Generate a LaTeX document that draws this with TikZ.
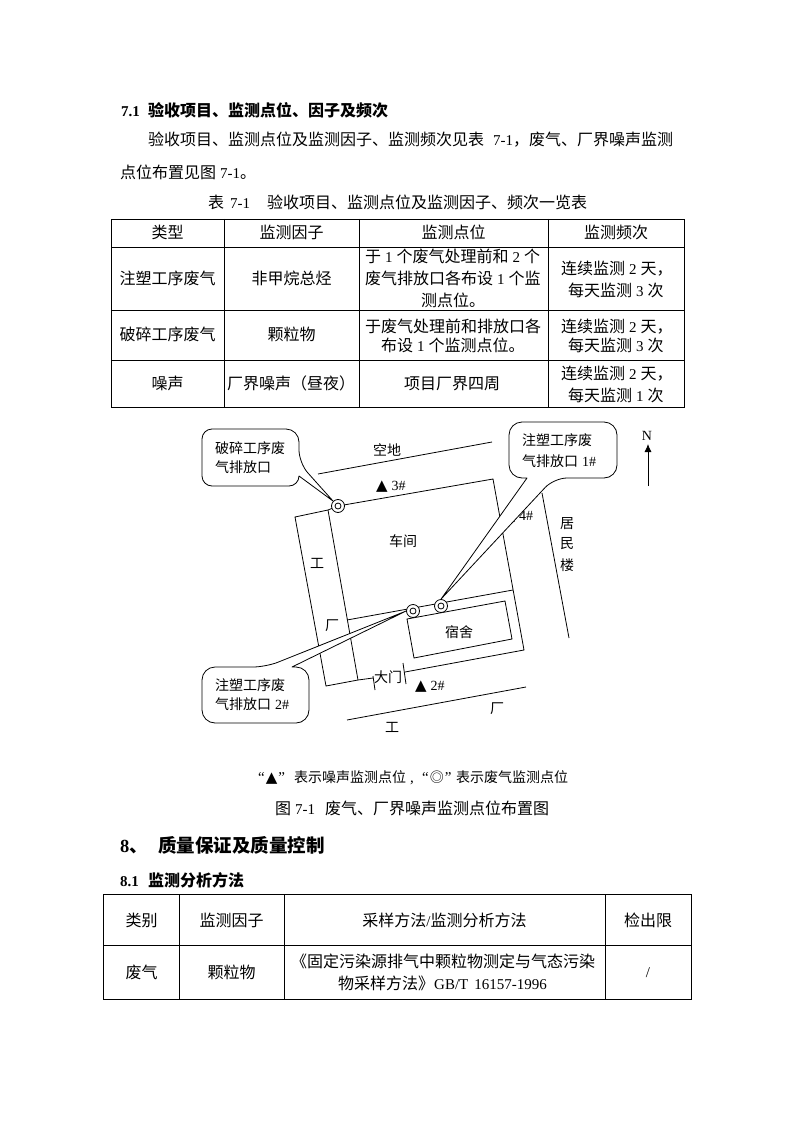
\documentclass[tikz,border=0pt]{standalone}
\usepackage{fontspec}
\usetikzlibrary{arrows.meta}
\setmainfont{Noto Sans CJK SC}
\newfontfamily\ltfont{Liberation Serif}
\newfontfamily\symfont{DejaVu Sans}
\newcommand\lat[1]{{\ltfont\fontsize{15}{15}\selectfont #1}}
\newcommand\slat[1]{{\ltfont\fontsize{14}{14}\selectfont #1}}
\newcommand\tri{{\symfont\fontsize{15}{15}\selectfont ▲}}
\tikzset{
  tl/.style={anchor=base west,inner sep=0pt,font=\fontsize{16}{16}\selectfont},
  tc/.style={anchor=base,inner sep=0pt,font=\fontsize{16}{16}\selectfont},
  dl/.style={anchor=base west,inner sep=0pt,font=\fontsize{14}{14}\selectfont},
  dc/.style={anchor=base,inner sep=0pt,font=\fontsize{14}{14}\selectfont},
  heads/.style={anchor=base west,inner sep=0pt,font=\bfseries\fontsize{16}{16}\selectfont},
  rule/.style={draw=black,line width=0.9pt},
  plan/.style={draw=black,line width=0.8pt},
  callout/.style={draw=black,fill=white,line width=0.8pt,line join=round},
  ring/.style={circle,draw=black,fill=white,line width=0.8pt,minimum size=13pt,inner sep=0pt},
  dotin/.style={circle,draw=black,fill=white,line width=0.8pt,minimum size=6pt,inner sep=0pt}
}
\begin{document}
\begin{tikzpicture}[x=1pt,y=-1pt]
\useasboundingbox[fill=white] (0,0) rectangle (794,1123);
% body text
\node[heads] (h1n) at (121,117) {\lat{\bfseries 7.1}};
\node[heads] (h1t) at (148,117) {验收项目、监测点位、因子及频次};
\node[tl] (p1) at (148,146) {验收项目、监测点位及监测因子、监测频次见表\hspace{9pt}\lat{7-1}，废气、厂界噪声监测};
\node[tl] (p2) at (120,179) {点位布置见图\hspace{4pt}\lat{7-1}。};
\node[tl] (cap1) at (208,209) {表\hspace{6pt}\lat{7-1}\hspace{17pt}验收项目、监测点位及监测因子、频次一览表};
% table 1
\draw[rule] (111,219) rectangle (684,407);
\draw[rule] (111,247) -- (684,247) (111,310) -- (684,310) (111,360) -- (684,360);
\draw[rule] (224,219) -- (224,407) (359,219) -- (359,407) (548,219) -- (548,407);
\node[tc] (a1) at (167.5,238) {类型};
\node[tc] (a2) at (291.5,238) {监测因子};
\node[tc] (a3) at (453.5,238) {监测点位};
\node[tc] (a4) at (616,238) {监测频次};
\node[tc] (b1) at (167.5,284) {注塑工序废气};
\node[tc] (b2) at (291.5,284) {非甲烷总烃};
\node[tl] (b3a) at (365,262) {于\hspace{4pt}\lat{1}\hspace{4pt}个废气处理前和\hspace{4pt}\lat{2}\hspace{4pt}个};
\node[tl] (b3b) at (365,284) {废气排放口各布设\hspace{4pt}\lat{1}\hspace{4pt}个监};
\node[tl] (b3c) at (421,306) {测点位。};
\node[tl] (b4a) at (561,274) {连续监测\hspace{4pt}\lat{2}\hspace{4pt}天，};
\node[tl] (b4b) at (568,296) {每天监测\hspace{4pt}\lat{3}\hspace{4pt}次};
\node[tc] (c1) at (167.5,340) {破碎工序废气};
\node[tc] (c2) at (291.5,340) {颗粒物};
\node[tl] (c3a) at (365,332) {于废气处理前和排放口各};
\node[tl] (c3b) at (381,351) {布设\hspace{4pt}\lat{1}\hspace{4pt}个监测点位。};
\node[tl] (c4a) at (561,332) {连续监测\hspace{4pt}\lat{2}\hspace{4pt}天，};
\node[tl] (c4b) at (568,351) {每天监测\hspace{4pt}\lat{3}\hspace{4pt}次};
\node[tc] (d1) at (167.5,389) {噪声};
\node[tl] (d2) at (227,389) {厂界噪声（昼夜）};
\node[tc] (d3) at (452,389) {项目厂界四周};
\node[tl] (d4a) at (561,379) {连续监测\hspace{4pt}\lat{2}\hspace{4pt}天，};
\node[tl] (d4b) at (568,401) {每天监测\hspace{4pt}\lat{1}\hspace{4pt}次};
% plan
\coordinate (wa) at (295,517);
\coordinate (wb) at (326,686);
\coordinate (wc) at (328,510);
\coordinate (wd) at (358,680);
\coordinate (wg) at (373,678);
\coordinate (ta) at (338,506);
\coordinate (tb) at (493,479);
\coordinate (tc) at (524,650);
\coordinate (td) at (405,672);
\coordinate (ma) at (513,590);
\coordinate (mb) at (347,620);
\draw[plan] (318,474) -- (492,442);
\draw[plan] (wc) -- (wa) -- (wb) -- (wd) -- (wg);
\draw[plan] (wc) -- (wd);
\draw[plan] (wc) -- (ta) -- (tb) -- (tc) -- (td);
\draw[plan] (373,676) -- (375,690);
\draw[plan] (403,663) -- (406,684);
\draw[plan] (ma) -- (mb);
\draw[plan] (407,619) -- (505,601) -- (512,639) -- (414,658) -- cycle;
\draw[plan] (542,493) -- (569,638);
\draw[plan] (347,720) -- (526,687);
\draw[plan,-{Latex[length=8pt,width=7pt]}] (648,486) -- (648,444);
\node[dc] (north) at (647,440) {\slat{N}};
\node[dc] (kd) at (387,455) {空地};
\node[dl] (m3) at (376,490) {\tri\hspace{4pt}\slat{3\#}};
\node[dl] (m4) at (503.5,520) {\tri\hspace{4pt}\slat{4\#}};
\node[dl] (m2) at (415,690) {\tri\hspace{4pt}\slat{2\#}};
\node[dc] (cj) at (403,546) {车间};
\node[dc] (g1) at (317,568) {工};
\node[dc] (g2) at (332,630) {厂};
\node[dc] (ss) at (459,637) {宿舍};
\node[dc] (dm) at (388,682) {大门};
\node[dc] (g3) at (392,732) {工};
\node[dc] (g4) at (497,713) {厂};
\node[dc] (j1) at (567,528) {居};
\node[dc] (j2) at (567,548) {民};
\node[dc] (j3) at (567,570) {楼};
% exhaust points
\foreach \n/\p in {ea/{338,506},eb/{413,611},ec/{441,606}}{
  \node[ring] (\n) at (\p) {};
  \node[dotin] at (\p) {};
}
% callouts
\draw[callout] (250,429) [rounded corners=13pt] -- (299,429) -- (299,463) [sharp corners,rounded corners=0pt] -- (ea.north west) -- (299,476) [rounded corners=10pt] -- (299,486) -- (202,486) -- (202,429) -- (250,429);
\draw[callout] (560,422) [rounded corners=13pt] -- (617,422) -- (617,478) -- (554,478) [rounded corners=0pt] -- (ec.north) -- (527,478) [rounded corners=13pt] -- (509,478) -- (509,422) -- (560,422);
\draw[callout] (202,695) [rounded corners=13pt] -- (202,667) -- (266,667) [rounded corners=0pt] -- (eb.west) -- (292,667) [rounded corners=13pt] -- (309,667) -- (309,723) -- (202,723) -- (202,695);
\node[dl] (c1a) at (215,453) {破碎工序废};
\node[dl] (c1b) at (215,472) {气排放口};
\node[dl] (c2a) at (522,445) {注塑工序废};
\node[dl] (c2b) at (522,466) {气排放口\hspace{4pt}\slat{1\#}};
\node[dl] (c3a2) at (215,690) {注塑工序废};
\node[dl] (c3b2) at (215,709) {气排放口\hspace{4pt}\slat{2\#}};
% legend
\node[dl] (lg1) at (258,782) {\makebox[36pt][l]{\lat{“}\hspace{1pt}\tri\hspace{1pt}\lat{”}}表示噪声监测点位\hspace{4pt}\lat{,}};
\node[dl] (lg2) at (422,782) {\makebox[34pt][l]{\lat{“}\hspace{1pt}◎\hspace{1pt}\lat{”}}表示废气监测点位};
\node[tl] (cap2) at (275,814) {图\hspace{4pt}\lat{7-1}\hspace{10pt}废气、厂界噪声监测点位布置图};
% section 8
\node[anchor=base west,inner sep=0pt,font=\bfseries\fontsize{18.5}{18.5}\selectfont] (h8a) at (120,852) {{\ltfont 8}、};
\node[anchor=base west,inner sep=0pt,font=\bfseries\fontsize{18.5}{18.5}\selectfont] (h8b) at (158,852) {质量保证及质量控制};
\node[heads] (h81n) at (120,886) {\lat{\bfseries 8.1}};
\node[heads] (h81t) at (148,886) {监测分析方法};
% table 2
\draw[rule] (103,894) rectangle (691,999);
\draw[rule] (103,945) -- (691,945);
\draw[rule] (179,894) -- (179,999) (284,894) -- (284,999) (605,894) -- (605,999);
\node[tc] (e1) at (141.5,926) {类别};
\node[tc] (e2) at (231.5,926) {监测因子};
\node[tc] (e3) at (444.5,926) {采样方法\lat{/}监测分析方法};
\node[tc] (e4) at (648,926) {检出限};
\node[tc] (f1) at (141.5,978) {废气};
\node[tc] (f2) at (231.5,978) {颗粒物};
\node[tl] (f3a) at (291,967) {《固定污染源排气中颗粒物测定与气态污染};
\node[tl] (f3b) at (338,989) {物采样方法》\lat{GB/T\hspace{6pt}16157-1996}};
\node[tc] (f4) at (648,977) {\lat{/}};
\end{tikzpicture}
\end{document}
